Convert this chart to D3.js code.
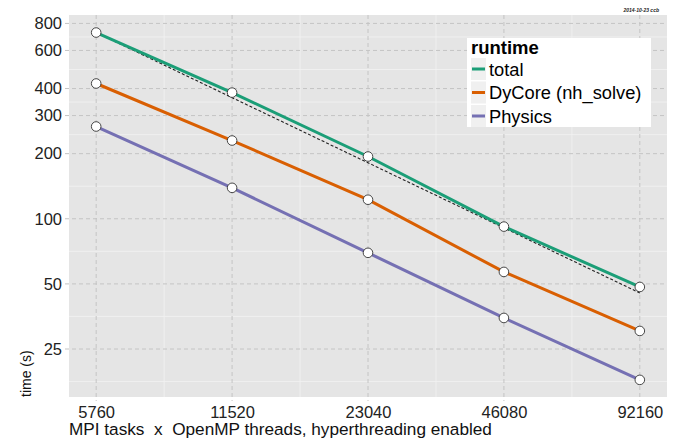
<!DOCTYPE html>
<html>
<head>
<meta charset="utf-8">
<script src="https://cdn.jsdelivr.net/npm/d3@7"></script>
<style>
  body { margin: 0; background: #fff; }
  text { font-family: "Liberation Sans", Arial, sans-serif; }
</style>
</head>
<body>
<div id="chart"></div>
<script>
// data
const tasks = [5760, 11520, 23040, 46080, 92160];
const totalTime = [726, 383, 194, 92, 48.4];
const dycoreTime = [422, 230, 122.5, 56.8, 30.3];
const physicsTime = [267, 139, 69.6, 34.8, 18];
const idealTime = [726, 363, 181.5, 90.75, 45.4];

const seriesNames = ["total", "DyCore (nh_solve)", "Physics"];
const seriesColors = ["#1b9e77", "#d95f02", "#7570b3"];
const yBreaks = [25, 50, 100, 200, 300, 400, 600, 800];

const svgWidth = 673;
const svgHeight = 440;
const margin = { top: 15, right: 6, bottom: 43, left: 69 };
const width = svgWidth - margin.left - margin.right;
const height = svgHeight - margin.top - margin.bottom;

const svg = d3.select("#chart")
  .append("svg")
  .attr("width", svgWidth)
  .attr("height", svgHeight);

const chartGroup = svg.append("g")
  .attr("transform", `translate(${margin.left}, ${margin.top})`);

// log2 x with 0.2 doubling padding, log10 y
const xScale = d3.scaleLog().base(2)
  .domain([5760 * Math.pow(2, -0.2), 92160 * Math.pow(2, 0.2)])
  .range([0, width]);

const yScale = d3.scaleLog()
  .domain([15, 875])
  .range([height, 0]);

// panel
chartGroup.append("rect")
  .attr("width", width)
  .attr("height", height)
  .attr("fill", "#e5e5e5");

// minor grid = geometric midpoints between breaks
const xMinor = d3.pairs(tasks).map(p => Math.sqrt(p[0] * p[1]));
const yMinor = d3.pairs([12.5].concat(yBreaks)).map(p => Math.sqrt(p[0] * p[1]))
  .filter(v => v > 15);

chartGroup.selectAll(".xminor")
  .data(xMinor)
  .enter()
  .append("line")
  .attr("x1", d => xScale(d)).attr("x2", d => xScale(d))
  .attr("y1", 0).attr("y2", height)
  .attr("stroke", "#f2f2f2")
  .attr("stroke-width", 0.8);

chartGroup.selectAll(".yminor")
  .data(yMinor)
  .enter()
  .append("line")
  .attr("y1", d => yScale(d)).attr("y2", d => yScale(d))
  .attr("x1", 0).attr("x2", width)
  .attr("stroke", "#f2f2f2")
  .attr("stroke-width", 0.8);

// major grid, dashed
chartGroup.selectAll(".xmajor")
  .data(tasks)
  .enter()
  .append("line")
  .attr("x1", d => xScale(d)).attr("x2", d => xScale(d))
  .attr("y1", 0).attr("y2", height + 4)
  .attr("stroke", "#c4c4c4")
  .attr("stroke-width", 1)
  .attr("stroke-dasharray", "4,3");

chartGroup.selectAll(".ymajor")
  .data(yBreaks)
  .enter()
  .append("line")
  .attr("y1", d => yScale(d)).attr("y2", d => yScale(d))
  .attr("x1", -4).attr("x2", width)
  .attr("stroke", "#c4c4c4")
  .attr("stroke-width", 1)
  .attr("stroke-dasharray", "4,3");

// axes (labels only, ticks drawn by grid)
const xAxis = d3.axisBottom(xScale).tickValues(tasks).tickFormat(d3.format("d")).tickSize(0).tickPadding(9);
const yAxis = d3.axisLeft(yScale).tickValues(yBreaks).tickFormat(d3.format("d")).tickSize(0).tickPadding(7);

const xg = chartGroup.append("g")
  .attr("transform", `translate(0, ${height})`)
  .call(xAxis);
const yg = chartGroup.append("g").call(yAxis);
[xg, yg].forEach(g => {
  g.select(".domain").remove();
  g.selectAll("text")
    .attr("font-family", "Liberation Sans, Arial, sans-serif")
    .attr("font-size", "16.5px")
    .attr("fill", "#222");
});

// ideal scaling, dashed black
const line = d3.line()
  .x((d, i) => xScale(tasks[i]))
  .y(d => yScale(d));

chartGroup.append("path")
  .datum(idealTime)
  .attr("d", line)
  .attr("fill", "none")
  .attr("stroke", "#222")
  .attr("stroke-width", 1.1)
  .attr("stroke-dasharray", "3,2");

const allSeries = [totalTime, dycoreTime, physicsTime];

allSeries.forEach(function(vals, k) {
  chartGroup.append("path")
    .datum(vals)
    .attr("d", line)
    .attr("fill", "none")
    .attr("stroke", seriesColors[k])
    .attr("stroke-width", 3);
});

allSeries.forEach(function(vals) {
  chartGroup.selectAll(null)
    .data(vals)
    .enter()
    .append("circle")
    .attr("cx", (d, i) => xScale(tasks[i]))
    .attr("cy", d => yScale(d))
    .attr("r", 4.8)
    .attr("fill", "white")
    .attr("stroke", "#333")
    .attr("stroke-width", 0.9);
});

// axis titles
svg.append("text")
  .attr("x", margin.left)
  .attr("y", 435)
  .attr("font-size", "17.2px")
  .attr("fill", "#111")
  .style("white-space", "pre")
  .text("MPI tasks  x  OpenMP threads, hyperthreading enabled");

svg.append("text")
  .attr("transform", `translate(31, ${margin.top + height}) rotate(-90)`)
  .attr("text-anchor", "start")
  .attr("font-size", "14px")
  .attr("fill", "#111")
  .text("time (s)");

// date stamp
svg.append("text")
  .attr("x", 659)
  .attr("y", 12)
  .attr("text-anchor", "end")
  .attr("font-size", "5px")
  .attr("font-style", "italic")
  .attr("font-weight", "bold")
  .attr("fill", "#222")
  .text("2014-10-23 ccb");

// legend
const legend = svg.append("g").attr("transform", "translate(467, 38)");
legend.append("rect")
  .attr("width", 184)
  .attr("height", 89)
  .attr("fill", "white");
legend.append("text")
  .attr("x", 4)
  .attr("y", 16)
  .attr("font-size", "18.5px")
  .attr("font-weight", "bold")
  .attr("fill", "#000")
  .text("runtime");

seriesNames.forEach(function(name, k) {
  const row = legend.append("g").attr("transform", `translate(4, ${20 + k * 23.5})`);
  row.append("rect")
    .attr("width", 15)
    .attr("height", 22)
    .attr("fill", "#f0f0f0");
  row.append("line")
    .attr("x1", 1).attr("x2", 14)
    .attr("y1", 11).attr("y2", 11)
    .attr("stroke", seriesColors[k])
    .attr("stroke-width", 3);
  row.append("text")
    .attr("x", 18)
    .attr("y", 17.5)
    .attr("font-size", "18.3px")
    .attr("fill", "#000")
    .text(name);
});
</script>
</body>
</html>
